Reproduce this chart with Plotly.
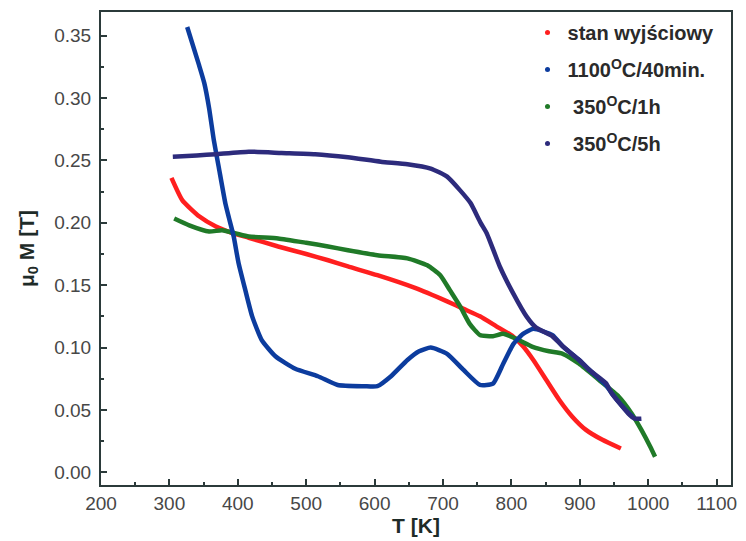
import plotly.graph_objects as go

# Magnetization vs temperature for four sample states
t_initial = [303, 319, 344, 368, 391, 416, 459, 500, 532, 561, 604, 658, 706, 730, 754,
             778, 802, 817, 832, 851, 870, 889, 909, 933, 960]
m_initial = [0.236, 0.218, 0.205, 0.197, 0.192, 0.188, 0.181, 0.175, 0.170, 0.165, 0.158,
             0.148, 0.137, 0.131, 0.125, 0.117, 0.109, 0.101, 0.090, 0.074, 0.058, 0.0446,
             0.034, 0.026, 0.019]

t_1100 = [326, 343, 351, 358, 365, 372, 382, 387, 394, 401, 411, 421, 435, 455, 484, 517,
          546, 585, 604, 624, 648, 665, 682, 706, 730, 754, 773, 788, 798, 803, 817, 832,
          860, 875, 899, 914, 938, 947, 972, 978]
m_1100 = [0.357, 0.327, 0.312, 0.292, 0.266, 0.245, 0.215, 0.204, 0.189, 0.168, 0.146,
          0.125, 0.106, 0.093, 0.083, 0.077, 0.070, 0.069, 0.069, 0.077, 0.090, 0.097,
          0.100, 0.095, 0.082, 0.070, 0.071, 0.087, 0.098, 0.103, 0.111, 0.115, 0.110,
          0.101, 0.090, 0.082, 0.070, 0.063, 0.047, 0.044]

t_350_1h = [307, 329, 358, 377, 397, 416, 459, 500, 532, 561, 604, 648, 677, 696, 710,
            725, 739, 754, 773, 788, 807, 831, 855, 875, 899, 928, 957, 976, 990, 1003, 1010]
m_350_1h = [0.2035, 0.198, 0.193, 0.194, 0.1915, 0.189, 0.1875, 0.184, 0.181, 0.178,
            0.174, 0.1715, 0.166, 0.158, 0.146, 0.133, 0.119, 0.110, 0.109, 0.111, 0.107,
            0.1006, 0.097, 0.095, 0.087, 0.074, 0.0606, 0.047, 0.034, 0.0205, 0.0125]

t_350_5h = [305, 340, 368, 416, 464, 513, 561, 609, 648, 682, 706, 725, 740, 755, 764,
            783, 803, 822, 836, 860, 875, 899, 914, 938, 947, 971, 980, 990]
m_350_5h = [0.253, 0.254, 0.255, 0.257, 0.256, 0.255, 0.2525, 0.249, 0.247, 0.2435, 0.237,
            0.226, 0.216, 0.200, 0.1915, 0.165, 0.143, 0.125, 0.116, 0.109, 0.101, 0.090,
            0.082, 0.0715, 0.063, 0.047, 0.043, 0.043]

series_names = ["stan wyjściowy", "1100<sup>O</sup>C/40min.",
                " 350<sup>O</sup>C/1h", " 350<sup>O</sup>C/5h"]
series_colors = ["#ff1f1f", "#0c3c9e", "#207a28", "#2d2b7c"]

x_ticks = [200, 300, 400, 500, 600, 700, 800, 900, 1000, 1100]
y_ticks = [0.00, 0.05, 0.10, 0.15, 0.20, 0.25, 0.30, 0.35]

curves = [(t_initial, m_initial), (t_1100, m_1100), (t_350_1h, m_350_1h), (t_350_5h, m_350_5h)]
draw_order = [0, 2, 1, 3]

fig = go.Figure()
for i in draw_order:
    tx, my = curves[i]
    fig.add_trace(go.Scatter(
        x=tx, y=my, mode="lines",
        line=dict(color=series_colors[i], width=4.5, shape="spline", smoothing=0.5),
        showlegend=False, hoverinfo="skip",
    ))

# dot glyphs for the legend
for i, name in enumerate(series_names):
    fig.add_trace(go.Scatter(
        x=[None], y=[None], mode="markers", name=name,
        marker=dict(color=series_colors[i], size=5),
        legendgroup=f"g{i}",
    ))

axis_color = "#2b3a3a"
font_family = "Liberation Sans, Arial, sans-serif"
tick_font = dict(family=font_family, size=19, color="#474747")
title_font = dict(family=font_family, size=21, color="#1e2b28")

fig.update_layout(
    width=746, height=541,
    margin=dict(l=101, r=9, t=12, b=56),
    paper_bgcolor="white", plot_bgcolor="white",
    legend=dict(
        x=0.677, y=0.998, xanchor="left", yanchor="top",
        bgcolor="rgba(0,0,0,0)", borderwidth=0,
        font=dict(family=font_family, size=20, color="#2a2a2a", weight="bold"),
        tracegroupgap=8, traceorder="grouped",
    ),
)

fig.update_xaxes(
    range=[200, 1121], tickvals=x_ticks, ticktext=[str(v) for v in x_ticks],
    showgrid=False, zeroline=False,
    showline=True, linecolor=axis_color, linewidth=2, mirror=True,
    ticks="inside", ticklen=6, tickwidth=1.5, tickcolor=axis_color,
    minor=dict(ticks="inside", ticklen=3, tickwidth=1.5, tickcolor=axis_color, dtick=50, tick0=200),
    tickfont=tick_font,
    title=dict(text="<b>T [K]</b>", font=title_font, standoff=2),
)
fig.update_yaxes(
    range=[-0.0102, 0.369], tickvals=y_ticks, ticktext=[f"{v:.2f}" for v in y_ticks],
    showgrid=False, zeroline=False,
    showline=True, linecolor=axis_color, linewidth=2, mirror=True,
    ticks="inside", ticklen=6, tickwidth=1.5, tickcolor=axis_color,
    minor=dict(ticks="inside", ticklen=3, tickwidth=1.5, tickcolor=axis_color, dtick=0.025, tick0=0),
    tickfont=tick_font, ticklabelstandoff=4,
    title=dict(text="<b>μ<sub>0</sub> M [T]</b>", font=title_font, standoff=14),
)

fig.write_html("out.html")
